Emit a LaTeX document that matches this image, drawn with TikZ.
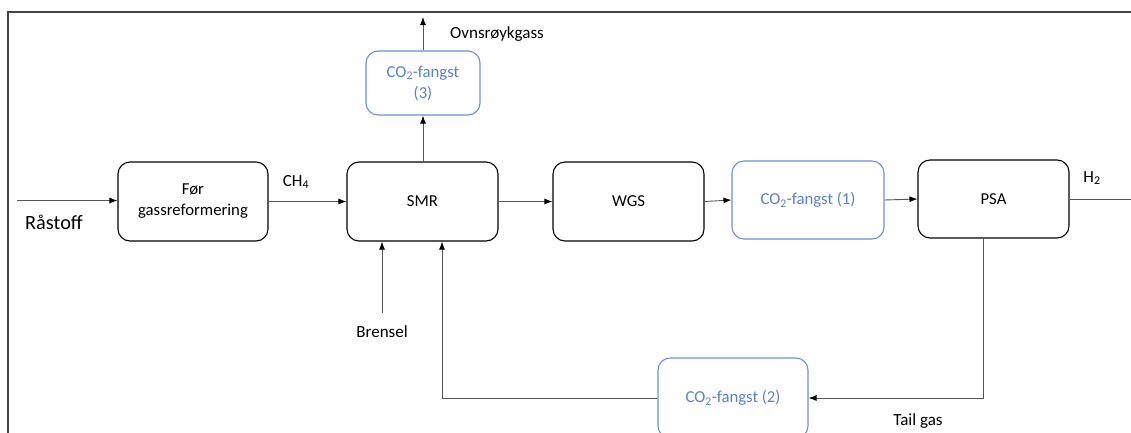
\documentclass[tikz,border=0pt]{standalone}
\usepackage{fontspec}
\setmainfont{Carlito}
\usetikzlibrary{arrows.meta}
\definecolor{capblue}{HTML}{6A8FD8}
\definecolor{captext}{HTML}{5A80CC}
\definecolor{linegray}{HTML}{555555}
\begin{document}
\begin{tikzpicture}[x=1pt,y=-1pt,
  blk/.style={draw=black, line width=1.1pt, rounded corners=12pt, inner sep=0pt, align=center, font=\fontsize{16.7}{21}\selectfont},
  capbox/.style={blk, draw=capblue, text=captext},
  arr/.style={draw=linegray, line width=0.9pt, -{Latex[length=8pt,width=6pt,color=black]}},
  lbl/.style={font=\fontsize{17}{20}\selectfont, inner sep=0pt}]
\useasboundingbox (0,0) rectangle (1131,432);
\clip (0,0) rectangle (1131,432);
% frame
\draw[draw=linegray!80!black, line width=1.4pt] (8,445) -- (8,12) -- (1145,12);
% boxes
\node[blk, minimum width=150pt, minimum height=79pt] (fgr) at (193,201.5) {Før\\gassreformering};
\node[blk, minimum width=151pt, minimum height=79pt] (smr) at (422.5,201.5) {SMR};
\node[blk, minimum width=151pt, minimum height=79pt] (wgs) at (628.5,201.5) {WGS};
\node[capbox, minimum width=152pt, minimum height=78pt] (c1) at (808,200) {CO\textsubscript{2}-fangst (1)};
\node[blk, minimum width=151pt, minimum height=78pt] (psa) at (993.5,199) {PSA};
\node[capbox, minimum width=114pt, minimum height=64pt] (c3) at (423,83) {CO\textsubscript{2}-fangst\\(3)};
\node[capbox, minimum width=150pt, minimum height=80pt] (c2) at (733,398) {CO\textsubscript{2}-fangst (2)};
% coordinates
\coordinate (r0) at (17,200.5);
\coordinate (h2end) at (1140,199);
\coordinate (ovn) at (423,17);
\coordinate (b0) at (382,313);
\coordinate (tg) at (983,398);
\coordinate (rt) at (442,398);
% connectors
\draw[arr] (r0) -- (r0 -| fgr.west);
\draw[arr] (fgr.east) -- (smr.west);
\draw[arr] (smr.east) -- (wgs.west);
\draw[arr] (wgs.east) -- (c1.west);
\draw[arr] (c1.east) -- (psa.west);
\draw[arr] (psa.east) -- (h2end);
\draw[arr] (smr.north -| c3.south) -- (c3.south);
\draw[arr] (c3.north) -- (ovn);
\draw[arr] (b0) -- (b0 |- smr.south);
\draw[arr] (psa.south -| tg) -- (tg) -- (c2.east);
\draw[arr] (c2.west) -- (rt) -- (rt |- smr.south);
% labels
\node[lbl, font=\fontsize{20.3}{24}\selectfont] (raa) at (54,222) {Råstoff};
\node[lbl] (ch4) at (296,182) {CH\textsubscript{4}};
\node[lbl] (h2) at (1092,178) {H\textsubscript{2}};
\node[lbl] (ovl) at (497,34) {Ovnsrøykgass};
\node[lbl] (bre) at (382,332) {Brensel};
\node[lbl] (tgl) at (918,421) {Tail gas};
\end{tikzpicture}
\end{document}
